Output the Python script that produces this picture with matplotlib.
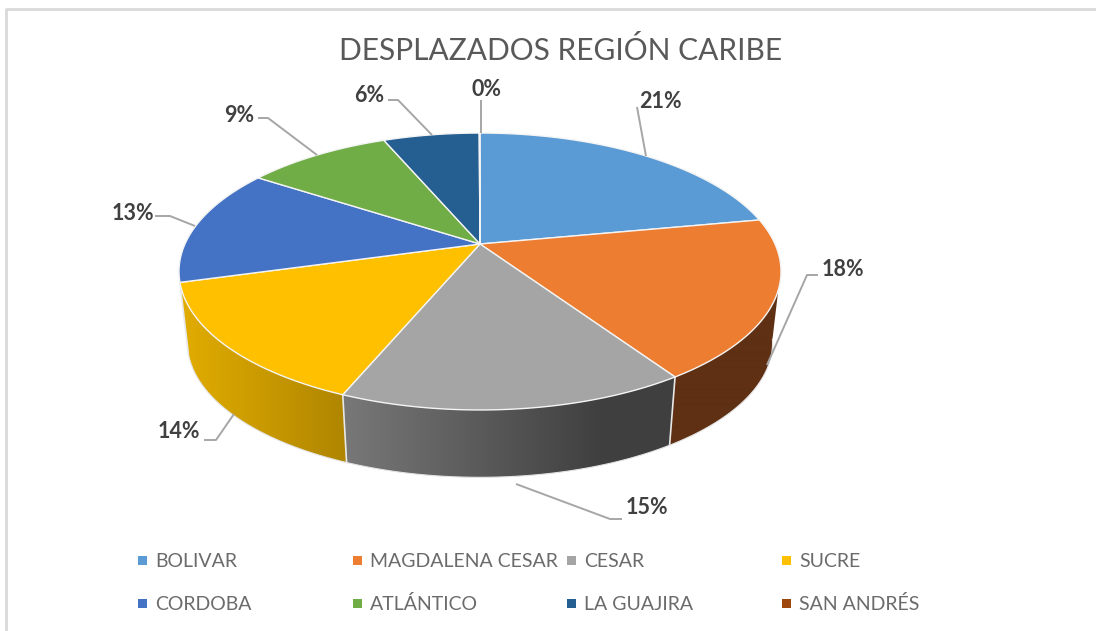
import numpy as np
import matplotlib
matplotlib.use('Agg')
import matplotlib.pyplot as plt
from matplotlib.patches import Polygon, Rectangle

plt.rcParams['font.family'] = ['Lato', 'DejaVu Sans']

# Data
categories = ['BOLIVAR', 'MAGDALENA CESAR', 'CESAR', 'SUCRE',
              'CORDOBA', 'ATLÁNTICO', 'LA GUAJIRA', 'SAN ANDRÉS']
values = [22.0, 18.7, 15.5, 14.4, 13.7, 9.4, 6.25, 0.05]
pct_labels = ['21%', '18%', '15%', '14%', '13%', '9%', '6%', '0%']
title = 'DESPLAZADOS REGIÓN CARIBE'

colors = ['#5B9BD5', '#ED7D31', '#A5A5A5', '#FFC000',
          '#4472C4', '#70AD47', '#255E91', '#9E480E']
wall_colors = {0: '#3a5f82', 1: '#5F3013', 4: '#2a4678', 5: '#44692b', 6: '#16395a', 7: '#5f2c08'}

# label centres and leader lines, in pixels
label_pos = [(660, 101), (843, 270), (647, 507), (179, 431),
             (133, 213), (239, 115), (369, 95), (486, 89)]
leaders = [[(637, 107), (646, 156)],
           [(818, 275), (807, 275), (767, 365)],
           [(516, 484), (610, 519), (622, 519)],
           [(204, 440), (216, 440), (234, 414)],
           [(155, 216), (170, 216), (195, 226)],
           [(258, 118), (268, 118), (317, 155)],
           [(388, 100), (398, 100), (432, 135)],
           [(481, 100), (481, 133)]]

W, H = 1096, 631
fig = plt.figure(figsize=(W / 100, H / 100), dpi=100, facecolor='white')
ax = fig.add_axes([0, 0, 1, 1])
ax.set_xlim(0, W)
ax.set_ylim(H, 0)
ax.axis('off')

# frame of the pasted chart
ax.plot([5.5, 5.5, W], [H, 8.5, 8.5], color='#d9d9d9', lw=2, zorder=1)

# Perspective pie
cx, cy = 480, 244
px, py, k = 295, 133, 0.1986
depth, shrink = 72, 0.972


def project(theta, bottom=False):
    # theta clockwise from the top of the pie
    u, v = np.sin(theta), np.cos(theta)
    x = px * u / (1 + k * v)
    y = -py * v / (1 + k * v)
    if bottom:
        return cx + x * shrink, cy + y * shrink + depth
    return cx + x, cy + y


edges = np.cumsum([0] + values) / sum(values) * 2 * np.pi
wall_from, wall_to = np.radians(100), np.radians(254.3)


def wall_gray(x):
    return np.interp(x, [344, 600, 670], [0.47, 0.25, 0.25])


def wall_gold(x):
    t = np.interp(x, [180, 344], [0, 1])
    return t


# walls
for i in range(len(values)):
    a, b = max(edges[i], wall_from), min(edges[i + 1], wall_to)
    if b <= a:
        continue
    t = np.linspace(a, b, 80)
    xt, yt = project(t)
    xb, yb = project(t, bottom=True)
    pts = np.column_stack([np.r_[xt, xb[::-1]], np.r_[yt, yb[::-1]]])
    poly = Polygon(pts, closed=True, fc='none', ec='none', transform=ax.transData)
    ax.add_patch(poly)
    xs = np.arange(170, 790)
    if i == 2:
        g = wall_gray(xs)
        img = np.dstack([g, g, g])
    elif i == 3:
        c1, c2 = np.array([0xE2, 0xAD, 0x00]) / 255, np.array([0xB0, 0x86, 0x00]) / 255
        s = wall_gold(xs)[:, None]
        img = (c1 * (1 - s) + c2 * s)[None, :, :]
    else:
        c = np.array(matplotlib.colors.to_rgb(wall_colors.get(i, '#5F3013')))
        img = np.tile(c, (1, len(xs), 1))
    im = ax.imshow(img.reshape(1, len(xs), 3), extent=[170, 790, 500, 200], aspect='auto',
                   zorder=2, interpolation='bilinear')
    im.set_clip_path(poly)
    # seams between the wedges and bottom edge
    ax.plot(xb, yb, color='#e3e3e3', lw=0.8, zorder=3)
    if edges[i] >= wall_from:
        ax.plot([xt[0], xb[0]], [yt[0], yb[0]], color='#e8e8e8', lw=1.2, zorder=3)

ax.set_xlim(0, W)
ax.set_ylim(H, 0)

# top of the pie
for i in range(len(values)):
    t = np.linspace(edges[i], edges[i + 1], 120)
    xt, yt = project(t)
    pts = np.column_stack([np.r_[cx, xt], np.r_[cy, yt]])
    ax.add_patch(Polygon(pts, closed=True, fc=colors[i], ec='#f4f4f4', lw=1.0,
                         joinstyle='round', zorder=4))

# leader lines and labels
for pts, pos, lab in zip(leaders, label_pos, pct_labels):
    ax.plot(*zip(*pts), color='#a6a6a6', lw=1.4, zorder=5, solid_capstyle='butt')
    ax.text(pos[0], pos[1], lab, ha='center', va='center', fontsize=15.5,
            fontweight='bold', color='#404040', zorder=6)

ax.text(561, 51, title, ha='center', va='center', fontsize=21.5, color='#595959')

# legend
col_x = [138, 353, 567, 782]
row_y = [561.5, 604.5]
for i, name in enumerate(categories):
    x, y = col_x[i % 4], row_y[i // 4]
    ax.add_patch(Rectangle((x, y - 6), 9, 9, fc=colors[i], ec='none', zorder=3))
    ax.text(x + 17, y, name, ha='left', va='center', fontsize=14, color='#6b6b6b')

fig.savefig('out.png', dpi=100)
